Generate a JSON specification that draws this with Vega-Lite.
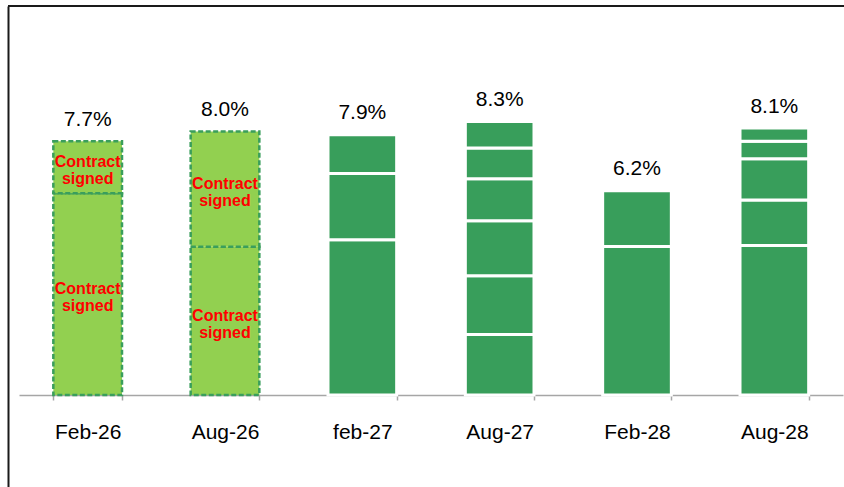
{
  "$schema": "https://vega.github.io/schema/vega-lite/v6.json",
  "autosize": "none",
  "padding": {"left": 8, "top": 6, "right": 0, "bottom": 0},
  "width": 836,
  "height": 481,
  "background": "white",
  "config": {"view": {"stroke": null}, "font": "Liberation Sans"},
  "data": {
    "values": [
      {"cat": "Feb-26", "seg": 1, "kind": "signed", "value": 6.12, "label": "Contract signed"},
      {"cat": "Feb-26", "seg": 2, "kind": "signed", "value": 1.58, "label": "Contract signed"},
      {"cat": "Aug-26", "seg": 1, "kind": "signed", "value": 4.5, "label": "Contract signed"},
      {"cat": "Aug-26", "seg": 2, "kind": "signed", "value": 3.5, "label": "Contract signed"},
      {"cat": "feb-27", "seg": 1, "kind": "other", "value": 4.71, "label": ""},
      {"cat": "feb-27", "seg": 2, "kind": "other", "value": 2.01, "label": ""},
      {"cat": "feb-27", "seg": 3, "kind": "other", "value": 1.18, "label": ""},
      {"cat": "Aug-27", "seg": 1, "kind": "other", "value": 1.84, "label": ""},
      {"cat": "Aug-27", "seg": 2, "kind": "other", "value": 1.78, "label": ""},
      {"cat": "Aug-27", "seg": 3, "kind": "other", "value": 1.67, "label": ""},
      {"cat": "Aug-27", "seg": 4, "kind": "other", "value": 1.27, "label": ""},
      {"cat": "Aug-27", "seg": 5, "kind": "other", "value": 0.94, "label": ""},
      {"cat": "Aug-27", "seg": 6, "kind": "other", "value": 0.8, "label": ""},
      {"cat": "Feb-28", "seg": 1, "kind": "other", "value": 4.51, "label": ""},
      {"cat": "Feb-28", "seg": 2, "kind": "other", "value": 1.69, "label": ""},
      {"cat": "Aug-28", "seg": 1, "kind": "other", "value": 4.54, "label": ""},
      {"cat": "Aug-28", "seg": 2, "kind": "other", "value": 1.38, "label": ""},
      {"cat": "Aug-28", "seg": 3, "kind": "other", "value": 1.25, "label": ""},
      {"cat": "Aug-28", "seg": 4, "kind": "other", "value": 0.53, "label": ""},
      {"cat": "Aug-28", "seg": 5, "kind": "other", "value": 0.4, "label": ""}
    ]
  },
  "layer": [
    {
      "transform": [{"filter": "datum.kind == 'signed'"}],
      "mark": {"type": "bar", "fill": "#92D050", "stroke": "#3A9E5C", "strokeWidth": 2.5, "strokeDash": [5, 2.5]},
      "encoding": {
        "x": {
          "field": "cat",
          "type": "nominal",
          "sort": ["Feb-26", "Aug-26", "feb-27", "Aug-27", "Feb-28", "Aug-28"],
          "scale": {"domain": ["Feb-26", "Aug-26", "feb-27", "Aug-27", "Feb-28", "Aug-28"], "range": [11, 835], "paddingInner": 0.5, "paddingOuter": 0.25},
          "axis": {
            "title": null,
            "orient": "bottom",
            "offset": -92,
            "grid": false,
            "domainColor": "#A6A6A6",
            "domainWidth": 1.5,
            "tickColor": "#A6A6A6",
            "tickWidth": 1.5,
            "tickSize": 5,
            "tickBand": "extent",
            "labelAngle": 0,
            "labelFont": "Liberation Sans",
            "labelFontSize": 21,
            "labelColor": "black",
            "labelBaseline": "alphabetic",
            "labelPadding": 38
          }
        },
        "y": {
          "field": "value",
          "type": "quantitative",
          "stack": "zero",
          "scale": {"domain": [-2.792, 11.806], "nice": false, "zero": false},
          "axis": {"title": null, "labels": false, "ticks": false, "grid": false, "domainColor": "#1a1a1a", "domainWidth": 2}
        },
        "detail": {"field": "seg"},
        "order": {"field": "seg"}
      }
    },
    {
      "transform": [{"filter": "datum.kind == 'other'"}],
      "mark": {"type": "bar", "fill": "#389E5B", "stroke": "white", "strokeWidth": 3},
      "encoding": {
        "x": {"field": "cat", "type": "nominal", "sort": ["Feb-26", "Aug-26", "feb-27", "Aug-27", "Feb-28", "Aug-28"]},
        "y": {"field": "value", "type": "quantitative", "stack": "zero"},
        "detail": {"field": "seg"},
        "order": {"field": "seg"}
      }
    },
    {
      "transform": [{"filter": "datum.kind == 'signed'"}],
      "mark": {"type": "text", "color": "#FF0000", "fontWeight": "bold", "fontSize": 16, "lineBreak": " ", "lineHeight": 17, "baseline": "middle", "dy": -5, "font": "Liberation Sans"},
      "encoding": {
        "x": {"field": "cat", "type": "nominal", "sort": ["Feb-26", "Aug-26", "feb-27", "Aug-27", "Feb-28", "Aug-28"]},
        "y": {"field": "value", "type": "quantitative", "stack": "zero", "bandPosition": 0.5},
        "detail": {"field": "seg"},
        "order": {"field": "seg"},
        "text": {"field": "label"}
      }
    },
    {
      "transform": [{"aggregate": [{"op": "sum", "field": "value", "as": "total"}], "groupby": ["cat"]}],
      "mark": {"type": "text", "fontSize": 21, "color": "black", "baseline": "alphabetic", "dy": -15.5, "font": "Liberation Sans", "text": {"expr": "format(datum.total, '.1f') + '%'"}},
      "encoding": {
        "x": {"field": "cat", "type": "nominal", "sort": ["Feb-26", "Aug-26", "feb-27", "Aug-27", "Feb-28", "Aug-28"]},
        "y": {"field": "total", "type": "quantitative"}
      }
    },
    {
      "mark": {"type": "rule", "color": "#1a1a1a", "strokeWidth": 2},
      "encoding": {"y": {"datum": 11.806}}
    }
  ]
}
